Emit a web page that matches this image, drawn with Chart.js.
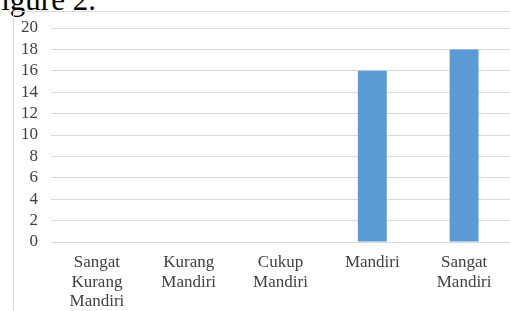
<!DOCTYPE html>
<html>
<head>
<meta charset="utf-8">
<script src="https://cdn.jsdelivr.net/npm/chart.js@4/dist/chart.umd.min.js"></script>
<style>
  html, body { margin: 0; padding: 0; background: #fff; }
  #wrap { position: relative; width: 510px; height: 311px; overflow: hidden; }
  #box { position: absolute; left: 13px; top: 11px; width: 600px; height: 400px;
         border-left: 1px solid #d9d9d9; border-top: 1px solid #d9d9d9; }
  #fig { position: absolute; left: -16px; top: -16px; font: 31px/31px "Liberation Serif", serif;
         color: #000; white-space: nowrap; }
  canvas { position: absolute; left: 0; top: 0; }
</style>
</head>
<body>
<div id="wrap">
  <div id="fig">Figure 2.</div>
  <div id="box"></div>
  <canvas id="barChart" width="510" height="311"></canvas>
</div>
<script>
var labels = [
    ["Sangat", "Kurang", "Mandiri"],
    ["Kurang", "Mandiri"],
    ["Cukup", "Mandiri"],
    "Mandiri",
    ["Sangat", "Mandiri"],
];
var data = [
    0,
    0,
    0,
    16,
    18,
];
var yMax = 20;
var yStep = 2;

var bar = document.getElementById("barChart").getContext('2d');
var myChart = new Chart(bar, {
    type: 'bar',
    data: {
        labels: labels,
        datasets: [
            {
                data: data,
                backgroundColor: '#5b9bd5',
                borderWidth: 0,
                categoryPercentage: 1,
                barPercentage: 0.315,
            }
        ]
    },
    options: {
        responsive: false,
        animation: false,
        layout: { padding: { top: 28, right: 0, bottom: 0, left: 0 } },
        plugins: {
            legend: { display: false },
            tooltip: { enabled: false }
        },
        scales: {
            x: {
                grid: { display: false, drawTicks: false },
                border: { display: false },
                ticks: {
                    color: '#404040',
                    font: { family: 'Liberation Serif', size: 17, lineHeight: 1.15 },
                    padding: 11,
                    maxRotation: 0,
                    autoSkip: false
                },
                afterFit: function (axis) { axis.height = 69; }
            },
            y: {
                min: 0,
                max: yMax,
                grid: { color: '#d9d9d9', lineWidth: 1, drawTicks: false },
                border: { display: false },
                ticks: {
                    stepSize: yStep,
                    autoSkip: false,
                    color: '#404040',
                    font: { family: 'Liberation Serif', size: 17 },
                    padding: 13
                },
                afterFit: function (axis) { axis.width = 51; }
            }
        }
    }
});
</script>
</body>
</html>
